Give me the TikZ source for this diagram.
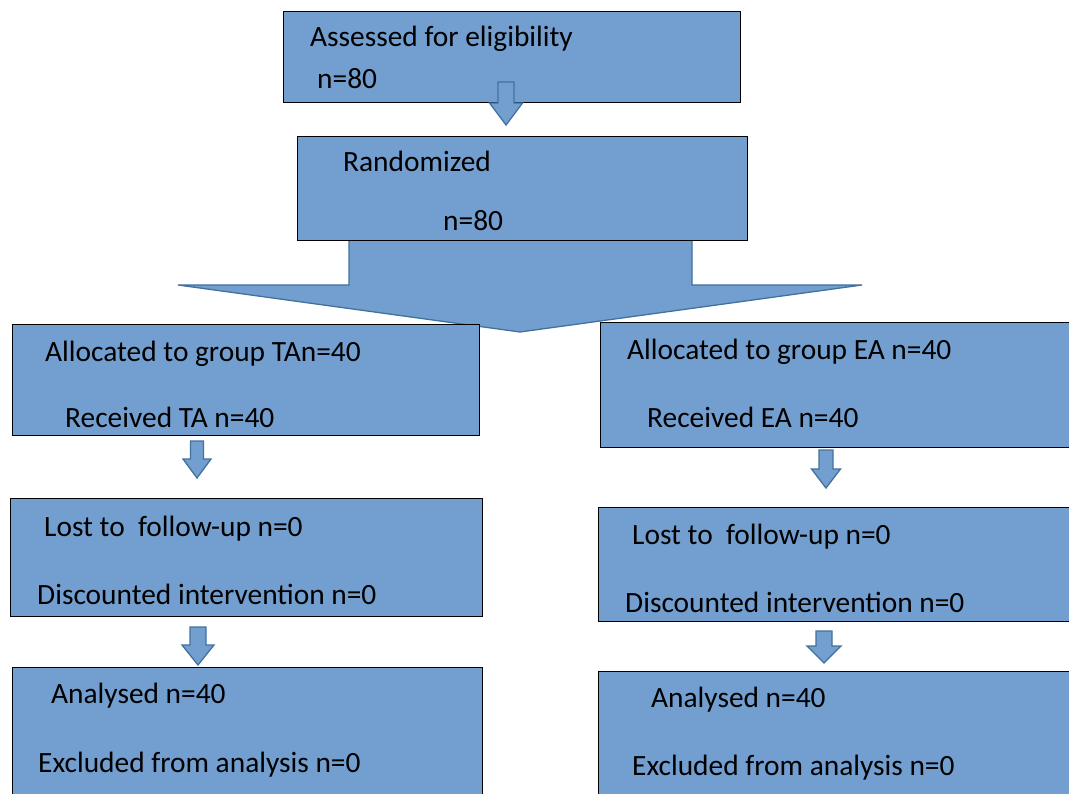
\documentclass[tikz,border=0pt]{standalone}
\usepackage{fontspec}
\setmainfont{Carlito}
\definecolor{boxfill}{RGB}{114,159,207}
\definecolor{arrowline}{RGB}{65,113,156}
\tikzset{
  box/.style={draw=black, line width=1pt, fill=boxfill},
  txt/.style={anchor=base west, inner sep=0pt, font=\fontsize{29.4}{34}\selectfont, text=black},
  blockarrow/.style={draw=arrowline, line width=1.3pt, fill=boxfill, line join=miter}
}
% down block arrow: centre x, top y, head base y, tip y, shaft half, head half
\newcommand\bdarrow[6]{%
  \draw[blockarrow] (#1-#5,#2) -- (#1+#5,#2) -- (#1+#5,#3) -- (#1+#6,#3) -- (#1,#4) -- (#1-#6,#3) -- (#1-#5,#3) -- cycle;}
\begin{document}
\begin{tikzpicture}[x=1pt,y=-1pt]
\useasboundingbox (0,0) rectangle (1069,794);
\clip (0,0) rectangle (1069,794);
\fill[white] (0,0) rectangle (1069,794);

% big split arrow (under the boxes)
\fill[boxfill] (349,238) -- (349,285) -- (178,285) -- (520,332) -- (862,285) -- (692,285) -- (692,238) -- cycle;
\draw[arrowline, line width=1.3pt, line join=miter] (349,240) -- (349,285) -- (178,285) -- (520,332) -- (862,285) -- (692,285) -- (692,240);

% boxes
\node[box, anchor=north west, minimum width=457pt, minimum height=91pt] (elig) at (283,11) {};
\node[box, anchor=north west, minimum width=450pt, minimum height=104pt] (rand) at (297,136) {};
\node[box, anchor=north west, minimum width=467pt, minimum height=111pt] (allocTA) at (12,324) {};
\node[box, anchor=north west, minimum width=475pt, minimum height=125pt] (allocEA) at (600,322) {};
\node[box, anchor=north west, minimum width=472pt, minimum height=118pt] (lostTA) at (10,498) {};
\node[box, anchor=north west, minimum width=477pt, minimum height=114pt] (lostEA) at (598,507) {};
\node[box, anchor=north west, minimum width=470pt, minimum height=140pt] (anaTA) at (12,667) {};
\node[box, anchor=north west, minimum width=477pt, minimum height=140pt] (anaEA) at (598,671) {};

% small block arrows
\bdarrow{506}{82}{103}{125}{8}{16.5}
\bdarrow{197}{441}{459}{478}{6.5}{14}
\bdarrow{826}{450}{469}{488}{7}{14.5}
\bdarrow{198}{627}{645}{665}{8}{16}
\bdarrow{824}{631}{646}{663}{8}{17}

% texts
\node[txt] (t1) at (310,47) {Assessed for eligibility};
\node[txt] (t2) at (317,89) {n=80};
\node[txt] (t3) at (343,172) {Randomized};
\node[txt] (t4) at (443,231) {n=80};
\node[txt] (t5) at (45,362) {Allocated to group TAn=40};
\node[txt] (t6) at (65,428) {Received TA n=40};
\node[txt] (t7) at (627,360) {Allocated to group EA n=40};
\node[txt] (t8) at (647,428) {Received EA n=40};
\node[txt] (t9) at (44,536) {Lost to\ \ follow-up n=0};
\node[txt] (t10) at (37,604) {Discounted intervention n=0};
\node[txt] (t11) at (632,544) {Lost to\ \ follow-up n=0};
\node[txt] (t12) at (625,612) {Discounted intervention n=0};
\node[txt] (t13) at (51,703) {Analysed n=40};
\node[txt] (t14) at (38,772) {Excluded from analysis n=0};
\node[txt] (t15) at (651,707) {Analysed n=40};
\node[txt] (t16) at (632,775) {Excluded from analysis n=0};
\end{tikzpicture}
\end{document}
